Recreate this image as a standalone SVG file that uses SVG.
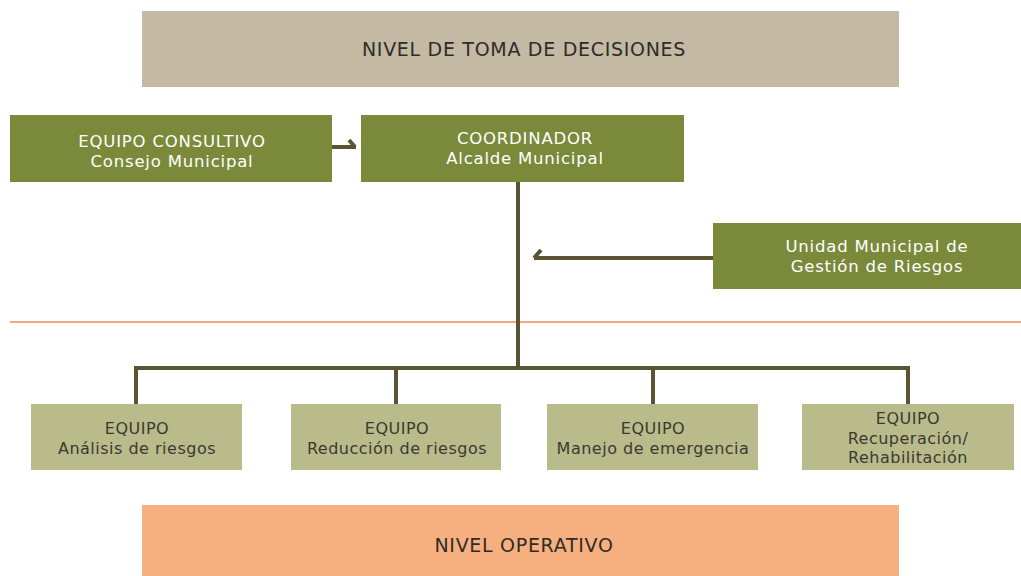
<svg xmlns="http://www.w3.org/2000/svg" width="1021" height="576" viewBox="0 0 1021 576">
<style>
.t{font-family:"DejaVu Sans","Open Sans",sans-serif;text-anchor:middle}
.w{fill:#ffffff;font-size:16.5px;letter-spacing:0.8px}
.d{fill:#3a3a32;font-size:16px;letter-spacing:0.5px}
.lvl{fill:#2e2c28;font-size:19px;letter-spacing:0.7px}
.c{stroke:#5a5434;stroke-width:4;fill:none}
.g{fill:#7b8a3a}
.lg{fill:#b9bb8b}
</style>
<rect width="1021" height="576" fill="#ffffff"/>
<g id="nivel-decisiones">
<rect x="142" y="11" width="757" height="76" fill="#c4b9a3"/>
<text class="t lvl" x="524" y="56">NIVEL DE TOMA DE DECISIONES</text>
</g>
<line x1="10" y1="322" x2="1021" y2="322" stroke="#f08a50" stroke-width="1.5"/>
<g id="connectors">
<path class="c" d="M332 147 H356"/>
<path class="c" d="M355 147 L349 140" stroke-width="3"/>
<path class="c" d="M518 182 V368"/>
<path class="c" d="M713 258 H534"/>
<path class="c" d="M534 258 L541 250" stroke-width="3"/>
<path class="c" d="M136 404 V368 H908 V404"/>
<path class="c" d="M396 368 V404"/>
<path class="c" d="M653 368 V404"/>
</g>
<g id="consultivo">
<rect class="g" x="10" y="115" width="322" height="67"/>
<text class="t w" x="172" y="147">EQUIPO CONSULTIVO</text>
<text class="t w" x="172" y="167">Consejo Municipal</text>
</g>
<g id="coordinador">
<rect class="g" x="361" y="115" width="323" height="67"/>
<text class="t w" x="525" y="144">COORDINADOR</text>
<text class="t w" x="525" y="164">Alcalde Municipal</text>
</g>
<g id="unidad">
<rect class="g" x="713" y="223" width="308" height="66"/>
<text class="t w" x="877" y="252">Unidad Municipal de</text>
<text class="t w" x="877" y="272">Gestión de Riesgos</text>
</g>
<g id="equipo-analisis">
<rect class="lg" x="31" y="404" width="211" height="66"/>
<text class="t d" x="137" y="434">EQUIPO</text>
<text class="t d" x="137" y="454">Análisis de riesgos</text>
</g>
<g id="equipo-reduccion">
<rect class="lg" x="291" y="404" width="210" height="66"/>
<text class="t d" x="397" y="434">EQUIPO</text>
<text class="t d" x="397" y="454">Reducción de riesgos</text>
</g>
<g id="equipo-manejo">
<rect class="lg" x="547" y="404" width="211" height="66"/>
<text class="t d" x="653" y="434">EQUIPO</text>
<text class="t d" x="653" y="454">Manejo de emergencia</text>
</g>
<g id="equipo-recuperacion">
<rect class="lg" x="802" y="404" width="212" height="66"/>
<text class="t d" x="908" y="424">EQUIPO</text>
<text class="t d" x="908" y="444">Recuperación/</text>
<text class="t d" x="908" y="463">Rehabilitación</text>
</g>
<g id="nivel-operativo">
<rect x="142" y="505" width="757" height="71" fill="#f6b07f"/>
<text class="t lvl" x="524" y="552">NIVEL OPERATIVO</text>
</g>
</svg>
